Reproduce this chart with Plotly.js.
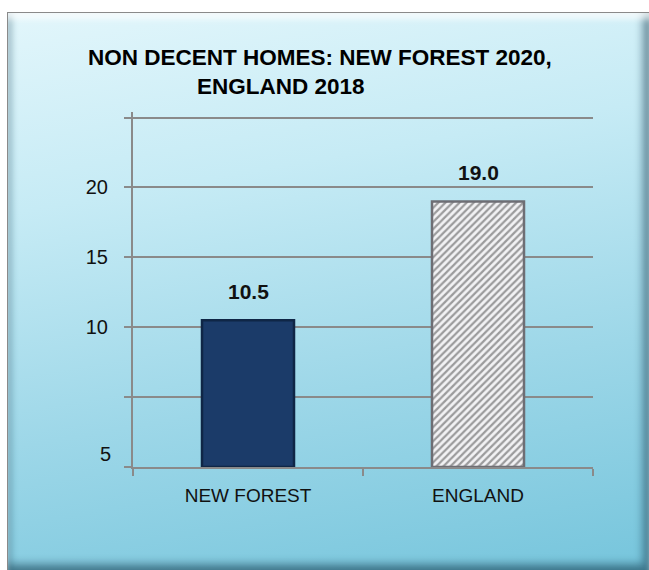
<!DOCTYPE html>
<html>
<head>
<meta charset="utf-8">
<script src="https://cdn.plot.ly/plotly-3.0.1.min.js"></script>
<style>
  html, body { margin: 0; padding: 0; background: #ffffff; }
  #wrap { position: relative; width: 649px; height: 570px; overflow: hidden; }
  #frame {
    position: absolute; left: 7px; top: 12px; width: 642px; height: 558px;
    box-sizing: border-box;
    border-top: 1px solid #8a8a8a; border-left: 1px solid #8a8a8a;
    background: linear-gradient(170deg, #e2f6fb 0%, #c6ebf5 30%, #9dd7e8 65%, #76c5dc 100%);
    box-shadow: inset 0 8px 6px -2px rgba(255,255,255,0.75),
                inset 6px 0 6px -2px rgba(40,90,110,0.35),
                inset -8px -8px 8px -2px rgba(20,60,80,0.55);
  }
  #chart { position: absolute; left: 0; top: 0; width: 649px; height: 570px; }
</style>
</head>
<body>
<div id="wrap">
  <div id="frame"></div>
  <div id="chart"></div>
</div>
<script>
// ---- data ----
const categories = ['NEW FOREST', 'ENGLAND'];
const values = [10.5, 19.0];
const gridVals = [0, 5, 10, 15, 20, 25];
const gridLabels = ['', '', '10', '15', '20', ''];
const lowLabelVal = 0.9;   // the "5" label sits near the bottom in the original
const lowLabelText = '5';
const titleLine1 = 'NON DECENT HOMES: NEW FOREST 2020,';
const titleLine2 = 'ENGLAND 2018';

// ---- styles ----
const barColors = ['#1b3b69', '#f2f2f4'];
const barLines = ['#0f2646', '#6e6e74'];
const barPatterns = ['', '/'];
const gridColor = '#8a8a8a';
const fontMain = 'Liberation Sans, Arial, sans-serif';
const yTop = 25, yMax = 25.4;
const plotL = 133, plotR = 593, plotB = 467;
const plotT = plotB - (plotB - 118) * yMax / yTop;

const trace = {
  type: 'bar',
  x: categories,
  y: values,
  width: 0.4,
  marker: {
    color: barColors,
    line: { color: barLines, width: 2.5 },
    pattern: { shape: barPatterns, fgcolor: '#85858e', size: 5, solidity: 0.45, fillmode: 'overlay' }
  },
  hoverinfo: 'skip'
};

const annotations = categories.map((c, i) => ({
  x: c, y: values[i], xref: 'x', yref: 'y',
  text: '<b>' + values[i].toFixed(1) + '</b>',
  showarrow: false, yanchor: 'bottom', yshift: 15,
  font: { family: fontMain, size: 21, color: '#111111' }
}));
annotations.push({
  x: 0, y: lowLabelVal, xref: 'paper', yref: 'y',
  text: lowLabelText, showarrow: false, xanchor: 'right', xshift: -20,
  font: { family: fontMain, size: 20, color: '#111111' }
});
annotations.push({
  x: (195 - plotL) / (plotR - plotL), y: 1 + (plotT - 87) / (plotB - plotT),
  xref: 'paper', yref: 'paper',
  text: '<b>' + titleLine2 + '</b>', showarrow: false, xanchor: 'left', yanchor: 'middle',
  font: { family: fontMain, size: 22.5, color: '#000000' }
});

const layout = {
  width: 649, height: 570,
  margin: { l: plotL, r: 649 - plotR, t: plotT, b: 570 - plotB },
  paper_bgcolor: 'rgba(0,0,0,0)',
  plot_bgcolor: 'rgba(0,0,0,0)',
  showlegend: false,
  title: {
    text: '<b>' + titleLine1 + '</b>',
    xref: 'container', x: 88 / 649, xanchor: 'left',
    yref: 'container', y: 1 - 57 / 570, yanchor: 'middle',
    font: { family: fontMain, size: 22.5, color: '#000000' }
  },
  xaxis: {
    type: 'category',
    showline: true, linecolor: gridColor, linewidth: 2,
    ticks: 'outside', tickson: 'boundaries', ticklen: 7, tickcolor: gridColor, tickwidth: 2,
    ticklabelstandoff: 10,
    tickfont: { family: fontMain, size: 19, color: '#111111' },
    showgrid: false, fixedrange: true
  },
  yaxis: {
    range: [0, yMax],
    tickvals: gridVals, ticktext: gridLabels,
    showgrid: true, gridcolor: gridColor, gridwidth: 2,
    showline: true, linecolor: gridColor, linewidth: 2,
    ticks: 'outside', ticklen: 7, tickcolor: gridColor, tickwidth: 2,
    ticklabelstandoff: 12,
    zeroline: false,
    tickfont: { family: fontMain, size: 20, color: '#111111' },
    fixedrange: true
  },
  annotations: annotations
};

Plotly.newPlot('chart', [trace], layout, { displayModeBar: false, staticPlot: true });
</script>
</body>
</html>
